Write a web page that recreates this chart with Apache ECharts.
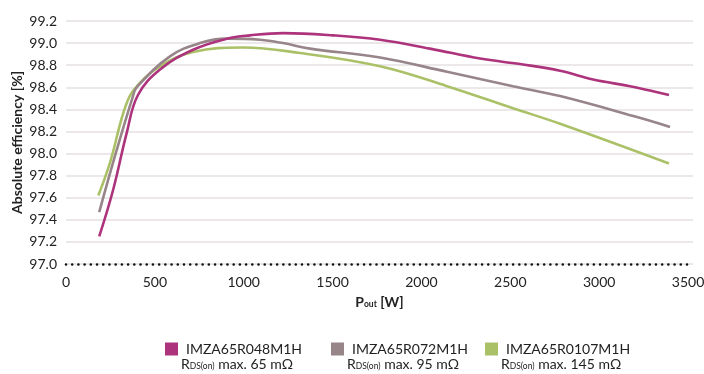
<!DOCTYPE html>
<html>
<head>
<meta charset="utf-8">
<script src="https://cdn.jsdelivr.net/npm/echarts@6/dist/echarts.min.js"></script>
<style>html,body{margin:0;padding:0;background:#fff}#c{width:704px;height:374px}</style>
</head>
<body>
<div id="c"></div>
<script>
// ---- data ----
const xTicks = [0, 500, 1000, 1500, 2000, 2500, 3000, 3500];
const yTicks = [97.0, 97.2, 97.4, 97.6, 97.8, 98.0, 98.2, 98.4, 98.6, 98.8, 99.0, 99.2];

const seriesNames = ['IMZA65R048M1H', 'IMZA65R072M1H', 'IMZA65R0107M1H'];
const rdsLabels = ['65 mΩ', '95 mΩ', '145 mΩ'];

const p048 = [187, 265, 342, 405, 529, 715, 906, 1035, 1221, 1503, 1767, 2048, 2330, 2555, 2780, 2966, 3174, 3286, 3393];
const e048 = [97.25, 97.67, 98.19, 98.53, 98.76, 98.94, 99.04, 99.07, 99.09, 99.07, 99.03, 98.95, 98.86, 98.81, 98.75, 98.67, 98.61, 98.57, 98.53];

const p072 = [187, 285, 377, 398, 585, 754, 904, 1092, 1221, 1373, 1767, 2144, 2515, 2780, 3213, 3399];
const e072 = [97.47, 98.03, 98.52, 98.60, 98.88, 99.00, 99.04, 99.03, 99.00, 98.95, 98.87, 98.74, 98.61, 98.52, 98.33, 98.24];

const p0107 = [182, 248, 342, 416, 529, 715, 996, 1317, 1767, 2144, 2515, 2780, 3393];
const e0107 = [97.62, 97.92, 98.46, 98.64, 98.79, 98.92, 98.96, 98.91, 98.79, 98.61, 98.41, 98.27, 97.91];

// ---- chart ----
const colors = ['#ad347c', '#978589', '#abc168'];
const FONT = 'Lato';
const TXT = '#222';

function zip(xs, ys) { return xs.map((x, i) => [x, ys[i]]); }
const seriesData = [zip(p048, e048), zip(p072, e072), zip(p0107, e0107)];

const legendLeft = [160, 326, 480];
const legends = seriesNames.map((n, i) => ({
  data: [n],
  left: legendLeft[i],
  top: 337,
  orient: 'horizontal',
  icon: 'rect',
  itemWidth: 13,
  itemHeight: 13,
  selectedMode: false,
  textStyle: { fontFamily: FONT, fontSize: 14, color: TXT, padding: [0, 0, 0, 3] }
}));

const rich = {
  b: { fontFamily: FONT, fontSize: 14, fill: TXT, lineHeight: 17, verticalAlign: 'bottom' },
  s: { fontFamily: FONT, fontSize: 8.5, fill: TXT, lineHeight: 8, verticalAlign: 'bottom' }
};
const graphics = rdsLabels.map((r, i) => ({
  type: 'text',
  left: legendLeft[i] + 21,
  top: 357,
  style: {
    text: '{b|R}{s|DS(on)}{b| max. ' + r + '}',
    rich: rich
  }
}));

const chart = echarts.init(document.getElementById('c'), null, { renderer: 'canvas' });
chart.setOption({
  animation: false,
  color: colors,
  grid: { left: 66, right: 11, top: 21, bottom: 110, containLabel: false, outerBoundsMode: 'none' },
  legend: legends,
  graphic: graphics,
  xAxis: {
    type: 'value',
    min: 0,
    max: 3528,
    interval: 500,
    name: '{b|P}{s|out}{b| [W]}',
    nameLocation: 'middle',
    nameGap: 28,
    nameMoveOverlap: false,
    nameTextStyle: {
      rich: {
        b: { fontFamily: FONT, fontSize: 14, fontWeight: 'bold', color: TXT, lineHeight: 17, verticalAlign: 'bottom' },
        s: { fontFamily: FONT, fontSize: 8.5, fontWeight: 'bold', color: TXT, lineHeight: 8, verticalAlign: 'bottom' }
      }
    },
    axisLine: { show: true, lineStyle: { color: '#111', width: 2.6, type: [0.01, 6.2], cap: 'round' } },
    axisTick: { show: false },
    splitLine: { show: false },
    axisLabel: {
      margin: 11,
      fontFamily: FONT, fontSize: 14, color: TXT,
      formatter: v => (xTicks.indexOf(v) >= 0 ? String(v) : '')
    }
  },
  yAxis: {
    type: 'value',
    min: 97.0,
    max: 99.2,
    interval: 0.2,
    name: 'Absolute efficiency [%]',
    nameLocation: 'middle',
    nameGap: 42,
    nameMoveOverlap: false,
    nameTextStyle: { fontFamily: FONT, fontSize: 14, fontWeight: 'bold', color: TXT },
    axisLine: { show: false },
    axisTick: { show: false },
    splitLine: {
      show: true,
      lineStyle: { color: '#e6e1e3', width: 1.5 }
    },
    axisLabel: {
      margin: 9,
      fontFamily: FONT, fontSize: 14, color: TXT,
      formatter: v => {
        const t = yTicks.find(k => Math.abs(k - v) < 1e-6);
        return t === undefined ? '' : t.toFixed(1);
      }
    }
  },
  series: seriesNames.map((n, i) => ({
    name: n,
    type: 'line',
    data: seriesData[i],
    smooth: 0.4,
    showSymbol: false,
    symbol: 'none',
    lineStyle: { width: 2.6, color: colors[i] },
    z: 3 - i
  }))
});
</script>
</body>
</html>
